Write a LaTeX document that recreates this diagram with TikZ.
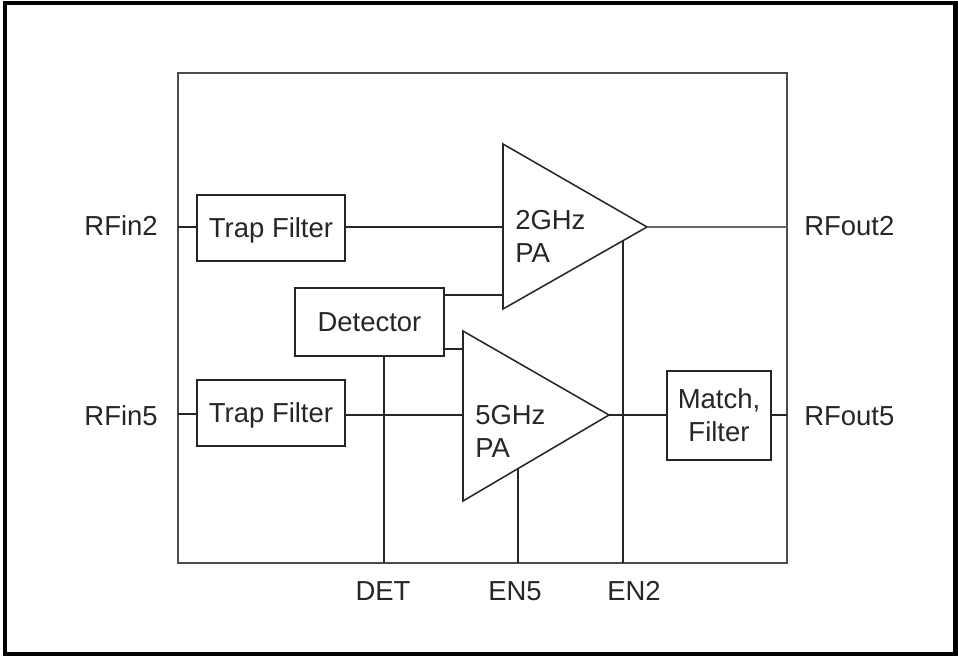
\documentclass[tikz,border=0pt]{standalone}
\usepackage{fontspec}
\setmainfont{Liberation Sans}
\tikzset{
  px/.style={x=0.75pt,y=-0.75pt},
  wire/.style={black!85,line width=1.15pt},
  blockbox/.style={draw=black!85,text=black!85,line width=1.15pt,inner sep=0pt,outer sep=0pt,align=center},
  trapbox/.style={blockbox,text depth=0pt,minimum width=111pt,minimum height=49.5pt},
  pinlabel/.style={inner sep=0pt,text=black!85},
  every node/.append style={font=\fontsize{20.6}{24.75}\selectfont}
}
\begin{document}
\begin{tikzpicture}[px]
\useasboundingbox (0,0) rectangle (958,656);
\draw [line width=3.4pt] (5,3) rectangle (955.5,654);
\node [blockbox,draw=black!70,minimum width=456.75pt,minimum height=367.5pt] (chip) at (482.5,318) {};
\node [trapbox] (trapa) at (271,228) {Trap Filter};
\node [trapbox] (trapb) at (271,413) {Trap Filter};
\node [blockbox,minimum width=111.75pt,minimum height=51pt] (detector) at (369.5,322) {Detector};
\node [blockbox,minimum width=78pt,minimum height=66.75pt] (match) at (719,415.5) {Match,\\Filter};
\coordinate (patop) at (503,144);
\coordinate (pabot) at (503,309);
\coordinate (patip) at (647,227);
\coordinate (pbtop) at (463,331);
\coordinate (pbbot) at (463,501);
\coordinate (pbtip) at (609,415);
\draw [wire] (patop) -- (patip) -- (pabot) -- cycle;
\draw [wire] (pbtop) -- (pbtip) -- (pbbot) -- cycle;
\node [pinlabel,anchor=west,align=left] (pawords) at (515,236) {2GHz\\PA};
\node [pinlabel,anchor=west,align=left] (pbwords) at (475,431) {5GHz\\PA};
\coordinate (ina) at (178,227);
\coordinate (inb) at (178,414);
\coordinate (outa) at (787,227);
\coordinate (outb) at (787,415);
\coordinate (pains) at (503,227);
\coordinate (padet) at (503,295);
\coordinate (pbins) at (463,415);
\coordinate (pbdet) at (463,349);
\coordinate (detout) at (444,295);
\coordinate (detoutb) at (444,349);
\coordinate (detbot) at (384,356);
\coordinate (pinde) at (384,563);
\coordinate (enbtop) at (518,468.6);
\coordinate (pinenb) at (518,563);
\coordinate (enatop) at (623,241);
\coordinate (pinena) at (623,563);
\draw [wire] (ina) -- (trapa.west |- ina);
\draw [wire] (trapa.east |- ina) -- (pains);
\draw [wire] (inb) -- (trapb.west |- inb);
\draw [wire] (trapb.east |- pbins) -- (pbins);
\draw [wire,black!60] (patip) -- (outa);
\draw [wire] (pbtip) -- (match.west |- pbtip);
\draw [wire] (match.east |- outb) -- (outb);
\draw [wire] (detout) -- (padet);
\draw [wire] (detoutb) -- (pbdet);
\draw [wire] (detbot) -- (pinde);
\draw [wire] (enbtop) -- (pinenb);
\draw [wire] (enatop) -- (pinena);
\node [pinlabel,anchor=east] (rfina) at (158,226) {RFin2};
\node [pinlabel,anchor=east] (rfinb) at (158,416) {RFin5};
\node [pinlabel,anchor=west] (rfouta) at (804,226) {RFout2};
\node [pinlabel,anchor=west] (rfoutb) at (804,416) {RFout5};
\node [pinlabel] (detlabel) at (383,591) {DET};
\node [pinlabel] (enblabel) at (515,591) {EN5};
\node [pinlabel] (enalabel) at (634,591) {EN2};
\end{tikzpicture}
\end{document}
